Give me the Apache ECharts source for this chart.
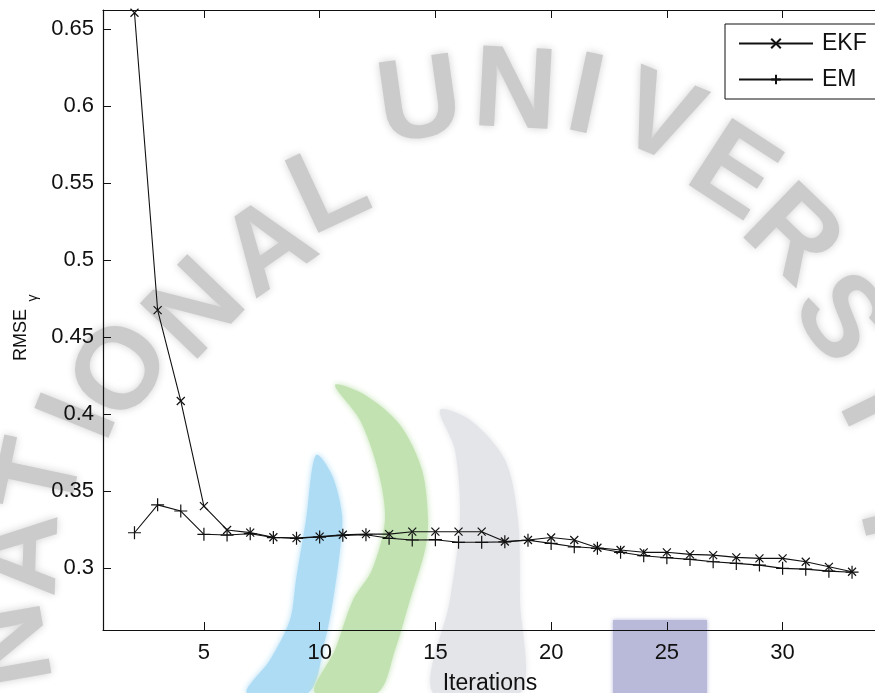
<!DOCTYPE html>
<html>
<head>
<meta charset="utf-8">
<script src="https://cdn.jsdelivr.net/npm/echarts@6/dist/echarts.min.js"></script>
<style>
  html, body { margin: 0; padding: 0; background: #fff; }
  #chart { width: 875px; height: 693px; }
</style>
</head>
<body>
<div id="chart"></div>
<script>
// Iteration index and the RMSE of each estimator
const iterations = [2, 3, 4, 5, 6, 7, 8, 9, 10, 11, 12, 13, 14, 15, 16, 17,
                    18, 19, 20, 21, 22, 23, 24, 25, 26, 27, 28, 29, 30, 31, 32, 33];
const ekfRmse = [0.6605, 0.4676, 0.4086, 0.3404, 0.3249, 0.3232, 0.3202, 0.3196,
                 0.3206, 0.3218, 0.3222, 0.3222, 0.3238, 0.3238, 0.3238, 0.3238,
                 0.3174, 0.3184, 0.3200, 0.3184, 0.3134, 0.3119, 0.3104, 0.3104,
                 0.3091, 0.3086, 0.3071, 0.3065, 0.3065, 0.3043, 0.3010, 0.2978];
const emRmse  = [0.3231, 0.3412, 0.3372, 0.3221, 0.3216, 0.3225, 0.3200, 0.3195,
                 0.3203, 0.3214, 0.3218, 0.3195, 0.3184, 0.3186, 0.3169, 0.3169,
                 0.3172, 0.3182, 0.3162, 0.3140, 0.3130, 0.3104, 0.3082, 0.3069,
                 0.3058, 0.3043, 0.3032, 0.3021, 0.3000, 0.2995, 0.2982, 0.2975];
const xTicks = [5, 10, 15, 20, 25, 30];
const yTicks = [0.3, 0.35, 0.4, 0.45, 0.5, 0.55, 0.6, 0.65];

const FONT = 'Liberation Sans, Arial, sans-serif';
const INK = '#111';

// Marker outlines: stroked paths with no fill area
const crossMark = 'path://M0,0L10,10M10,0L0,10';
const plusMark = 'path://M5,0L5,10M0,5L10,5';

// Background emblem behind the plot: letters along an arc plus coloured bands
const emblemLetters = [
  ['N', 14, 645, -100], ['A', 24, 555, -88], ['T', 44, 478, -78], ['I', 82, 418, -68],
  ['O', 124, 372, -58], ['N', 198, 312, -46], ['A', 270, 250, -35], ['L', 330, 192, -25],
  ['U', 420, 105, -8], ['N', 515, 95, 3], ['I', 585, 100, 12], ['V', 658, 122, 22],
  ['E', 732, 175, 33], ['R', 790, 238, 44], ['S', 838, 320, 55], ['I', 874, 405, 64],
  ['T', 895, 520, 76]
];
const emblemShapes = [
  { fill: '#aedcf4', points: [[316,455],[306,520],[296,580],[290,620],[270,660],[247,693],[308,693],[325,640],[333,600],[340,550],[342,515],[332,475]] },
  { fill: '#c2e2b2', points: [[335,385],[360,420],[378,470],[385,520],[372,570],[353,600],[335,650],[315,693],[377,693],[395,650],[410,600],[425,550],[428,520],[422,470],[400,425],[365,395]] },
  { fill: '#e4e5e9', points: [[440,410],[455,450],[460,520],[450,600],[433,693],[520,693],[520,600],[518,520],[505,460],[470,420]] }
];

const emblem = [];
emblemShapes.forEach(s => emblem.push({
  type: 'polygon', z: -10, silent: true,
  shape: { points: s.points, smooth: 0.3 },
  style: { fill: s.fill, shadowBlur: 6, shadowColor: s.fill }
}));
emblem.push({
  type: 'rect', z: -10, silent: true,
  shape: { x: 613, y: 620, width: 94, height: 80 },
  style: { fill: '#b9b9d9', shadowBlur: 4, shadowColor: '#b9b9d9' }
});
emblemLetters.forEach(([ch, x, y, deg]) => emblem.push({
  type: 'text', z: -10, silent: true,
  x: x, y: y, rotation: -deg * Math.PI / 180,
  style: {
    text: ch, fill: '#cbcbcb', font: 'bold 116px ' + FONT,
    textAlign: 'center', textVerticalAlign: 'middle',
    textShadowBlur: 8, textShadowColor: '#d2d2d2'
  }
}));

const chart = echarts.init(document.getElementById('chart'), null, { renderer: 'canvas' });

const tickStyle = { show: true, inside: true, length: 8, lineStyle: { color: INK, width: 1 } };
const lineAxis = { show: true, onZero: false, lineStyle: { color: INK, width: 1.2 } };

chart.setOption({
  animation: false,
  backgroundColor: '#fff',
  textStyle: { fontFamily: FONT },
  grid: { left: 103, top: 10, width: 787, height: 620, containLabel: false, outerBoundsMode: 'none' },
  legend: {
    left: 725, top: 24, orient: 'vertical',
    padding: [8, 14, 8, 13], itemGap: 13,
    itemWidth: 74, itemHeight: 12,
    backgroundColor: '#fff', borderColor: INK, borderWidth: 1,
    textStyle: { fontSize: 23, color: INK, fontFamily: FONT, padding: [0, 0, 0, 4] },
    data: ['EKF', 'EM']
  },
  xAxis: [{
    type: 'value', min: 0.64, max: 34.64, position: 'bottom',
    axisLine: lineAxis,
    axisTick: Object.assign({ customValues: xTicks }, tickStyle),
    axisLabel: { customValues: xTicks, fontSize: 22, color: INK, margin: 12, fontFamily: FONT },
    splitLine: { show: false },
    name: 'Iterations', nameLocation: 'middle', nameGap: 42,
    nameTextStyle: { fontSize: 23, color: INK, fontFamily: FONT, padding: [0, 13, 0, 0] }
  }, {
    type: 'value', min: 0.64, max: 34.64, position: 'top',
    axisLine: lineAxis,
    axisTick: Object.assign({ customValues: xTicks }, tickStyle),
    axisLabel: { show: false }, splitLine: { show: false }
  }],
  yAxis: [{
    type: 'value', min: 0.26, max: 0.6623, position: 'left',
    axisLine: lineAxis,
    axisTick: Object.assign({ customValues: yTicks }, tickStyle),
    axisLabel: {
      customValues: yTicks, fontSize: 22, color: INK, margin: 9, fontFamily: FONT,
      formatter: v => String(+(+v).toFixed(2))
    },
    splitLine: { show: false }
  }, {
    type: 'value', min: 0.26, max: 0.6623, position: 'right',
    axisLine: lineAxis,
    axisTick: Object.assign({ customValues: yTicks }, tickStyle),
    axisLabel: { show: false }, splitLine: { show: false }
  }],
  graphic: emblem.concat([
    {
      type: 'text', x: 21, y: 335, rotation: Math.PI / 2,
      style: { text: 'RMSE', font: '18px ' + FONT, fill: INK, textAlign: 'center', textVerticalAlign: 'middle' }
    },
    {
      type: 'text', x: 33, y: 298, rotation: Math.PI / 2,
      style: { text: 'γ', font: '14px ' + FONT, fill: INK, textAlign: 'center', textVerticalAlign: 'middle' }
    }
  ]),
  series: [{
    name: 'EKF', type: 'line',
    data: iterations.map((x, i) => [x, ekfRmse[i]]),
    symbol: crossMark, symbolSize: 8, showSymbol: true,
    lineStyle: { color: INK, width: 1.1 },
    itemStyle: { color: INK, borderColor: INK, borderWidth: 1.2 },
    z: 3
  }, {
    name: 'EM', type: 'line',
    data: iterations.map((x, i) => [x, emRmse[i]]),
    symbol: plusMark, symbolSize: 13, showSymbol: true,
    lineStyle: { color: INK, width: 1.1 },
    itemStyle: { color: INK, borderColor: INK, borderWidth: 1.2 },
    z: 3
  }]
});
</script>
</body>
</html>
